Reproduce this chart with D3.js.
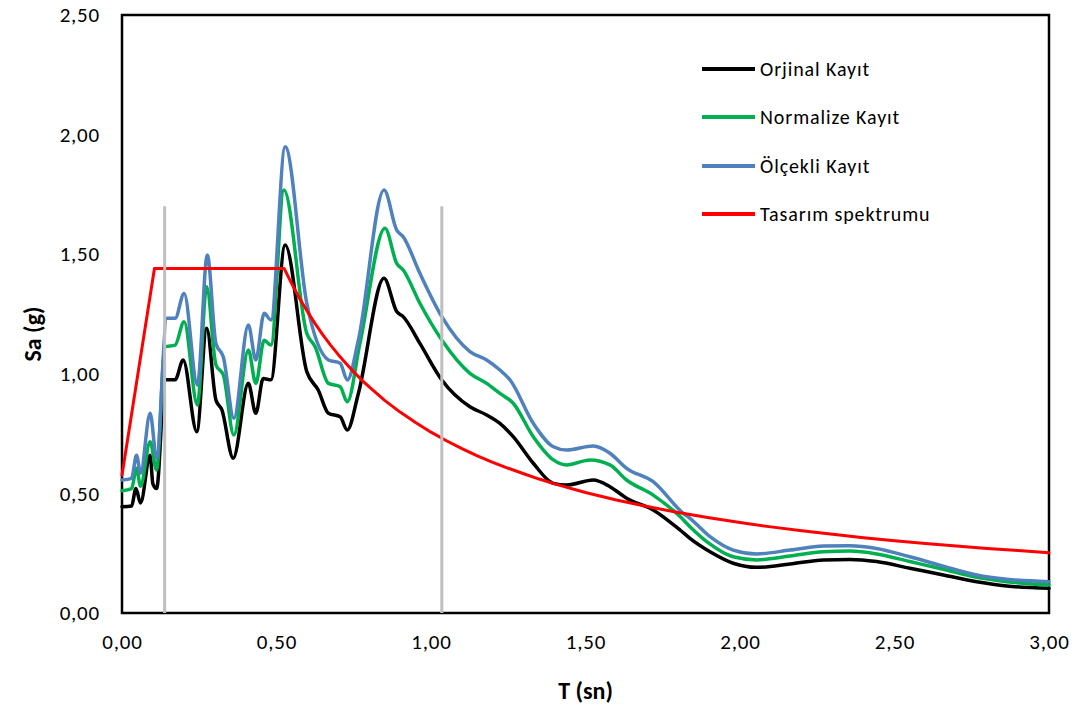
<!DOCTYPE html>
<html>
<head>
<meta charset="utf-8">
<script src="https://cdn.jsdelivr.net/npm/d3@7"></script>
<style>
  html, body { margin: 0; padding: 0; background: #fff; }
  svg { display: block; }
  text { font-family: Carlito, Calibri, Lato, "Liberation Sans", sans-serif; fill: #000; }
</style>
</head>
<body>
<svg id="chart" width="1085" height="713"></svg>
<script>
// ---- Data ----
const xTicks = [0, 0.5, 1.0, 1.5, 2.0, 2.5, 3.0];
const yTicks = [0, 0.5, 1.0, 1.5, 2.0, 2.5];
const seriesNames = ["Orjinal Kayıt", "Normalize Kayıt", "Ölçekli Kayıt", "Tasarım spektrumu"];
const seriesColors = ["#000000", "#00b050", "#4f81bd", "#ff0000"];

const orjinalT = [0.00,0.031,0.045,0.060,0.091,0.100,0.112,0.139,0.172,0.198,0.242,0.274,0.304,0.323,0.360,0.409,0.433,0.457,0.482,0.528,0.598,0.635,0.668,0.706,0.729,0.765,0.848,0.889,0.910,0.964,1.035,1.126,1.180,1.223,1.266,1.331,1.396,1.439,1.525,1.579,1.633,1.719,1.806,1.838,1.903,1.978,2.054,2.162,2.270,2.356,2.442,2.550,2.658,2.766,2.863,3.00];
const orjinalSa = [0.444,0.447,0.52,0.46,0.66,0.54,0.52,0.975,0.975,1.058,0.758,1.19,0.89,0.85,0.647,0.96,0.835,0.98,0.975,1.538,1.009,0.932,0.835,0.82,0.765,0.918,1.399,1.26,1.239,1.127,0.974,0.862,0.828,0.793,0.737,0.626,0.542,0.535,0.556,0.528,0.48,0.431,0.347,0.312,0.256,0.208,0.191,0.205,0.222,0.224,0.215,0.187,0.159,0.131,0.113,0.103];

const normalizeT = [0.00,0.031,0.047,0.060,0.091,0.112,0.139,0.172,0.201,0.244,0.274,0.304,0.328,0.362,0.409,0.433,0.460,0.482,0.524,0.598,0.625,0.668,0.706,0.729,0.770,0.851,0.889,0.910,0.964,1.035,1.126,1.180,1.223,1.266,1.331,1.396,1.439,1.515,1.579,1.633,1.719,1.806,1.838,1.900,1.978,2.054,2.162,2.270,2.356,2.442,2.550,2.658,2.766,2.863,3.00];
const normalizeSa = [0.511,0.52,0.605,0.53,0.716,0.598,1.113,1.12,1.218,0.87,1.364,1.037,0.995,0.744,1.10,0.96,1.14,1.12,1.768,1.169,1.113,0.96,0.946,0.883,1.127,1.608,1.462,1.434,1.295,1.141,1.002,0.96,0.918,0.877,0.737,0.64,0.619,0.64,0.619,0.556,0.493,0.403,0.361,0.291,0.235,0.222,0.238,0.256,0.259,0.247,0.215,0.183,0.149,0.131,0.117];

const olcekliT = [0.00,0.031,0.047,0.060,0.091,0.112,0.145,0.172,0.201,0.244,0.276,0.304,0.328,0.362,0.409,0.433,0.460,0.482,0.528,0.598,0.668,0.706,0.729,0.765,0.848,0.889,0.910,0.964,1.035,1.126,1.180,1.223,1.256,1.331,1.396,1.439,1.525,1.579,1.633,1.719,1.816,1.838,1.903,1.978,2.054,2.162,2.270,2.356,2.442,2.550,2.658,2.766,2.863,3.00];
const olcekliSa = [0.556,0.563,0.66,0.584,0.835,0.647,1.232,1.232,1.336,0.953,1.497,1.127,1.07,0.814,1.204,1.058,1.253,1.225,1.949,1.295,1.058,1.044,0.974,1.141,1.768,1.601,1.573,1.42,1.239,1.093,1.058,1.016,0.974,0.793,0.695,0.681,0.698,0.668,0.605,0.549,0.417,0.396,0.319,0.263,0.247,0.263,0.28,0.281,0.27,0.235,0.196,0.159,0.141,0.131];

const tasarimT = [0.00,0.105,0.525,0.55,0.575,0.60,0.625,0.65,0.675,0.70,0.725,0.75,0.775,0.80,0.85,0.90,0.95,1.00,1.05,1.10,1.15,1.20,1.25,1.30,1.35,1.40,1.50,1.60,1.70,1.80,1.90,2.00,2.10,2.20,2.30,2.40,2.50,2.60,2.70,2.80,2.90,3.00];
const tasarimSa = [0.576,1.44,1.44,1.375,1.315,1.26,1.21,1.163,1.12,1.08,1.043,1.008,0.975,0.945,0.889,0.84,0.796,0.756,0.72,0.687,0.657,0.63,0.605,0.582,0.56,0.54,0.504,0.4725,0.445,0.42,0.398,0.378,0.36,0.344,0.329,0.315,0.3024,0.291,0.28,0.27,0.261,0.252];

const grayT = [0.138, 1.035];
const grayTop = 1.70;

// ---- Chart ----
const svg = d3.select("#chart");
const x = d3.scaleLinear().domain([0, 3]).range([122, 1049]);
const y = d3.scaleLinear().domain([0, 2.5]).range([613, 15]);

const fmt = v => d3.format(".2f")(v).replace(".", ",");

// tick labels
const xAxis = d3.axisBottom(x).tickValues(xTicks).tickSize(0).tickPadding(21).tickFormat(fmt);
const gx = svg.append("g").attr("transform", "translate(0,613)").call(xAxis);
gx.select(".domain").remove();
gx.selectAll("text").style("font-size", "21px").style("letter-spacing", "0.8px").attr("fill", "#000");

const yAxis = d3.axisLeft(y).tickValues(yTicks).tickSize(0).tickPadding(22).tickFormat(fmt);
const gy = svg.append("g").attr("transform", "translate(122,0)").call(yAxis);
gy.select(".domain").remove();
gy.selectAll("text").style("font-size", "21px").style("letter-spacing", "0.8px").attr("fill", "#000");

// plot border
svg.append("rect")
  .attr("x", x(0)).attr("y", y(2.5))
  .attr("width", x(3) - x(0)).attr("height", y(0) - y(2.5))
  .attr("fill", "none").attr("stroke", "#000").attr("stroke-width", 2.5);

const lineSmooth = d3.line().x(d => x(d[0])).y(d => y(d[1])).curve(d3.curveMonotoneX);
const lineStraight = d3.line().x(d => x(d[0])).y(d => y(d[1])).curve(d3.curveLinear);

const series = [
  d3.zip(orjinalT, orjinalSa),
  d3.zip(normalizeT, normalizeSa),
  d3.zip(olcekliT, olcekliSa),
  d3.zip(tasarimT, tasarimSa)
];
const widths = [3.5, 3.5, 3.5, 3];

series.forEach((s, i) => {
  svg.append("path")
    .datum(s)
    .attr("d", i === 3 ? lineStraight : lineSmooth)
    .attr("fill", "none")
    .attr("stroke", seriesColors[i])
    .attr("stroke-width", widths[i])
    .attr("stroke-linejoin", "round")
    .attr("stroke-linecap", "round");
});

// gray vertical lines
grayT.forEach(t => {
  svg.append("line")
    .attr("x1", x(t)).attr("x2", x(t))
    .attr("y1", y(grayTop)).attr("y2", y(0))
    .attr("stroke", "#bfbfbf").attr("stroke-width", 3);
});

// axis titles
svg.append("text")
  .attr("x", (x(0) + x(3)) / 2).attr("y", 699)
  .attr("text-anchor", "middle")
  .style("font-size", "24px").style("font-weight", "bold")
  .text("T (sn)");

svg.append("text")
  .attr("transform", "translate(41,334) rotate(-90)")
  .attr("text-anchor", "middle")
  .style("font-size", "24px").style("font-weight", "bold")
  .text("Sa (g)");

// legend
const legendY = [69, 117, 166, 214];
seriesNames.forEach((name, i) => {
  svg.append("line")
    .attr("x1", 702).attr("x2", 755)
    .attr("y1", legendY[i]).attr("y2", legendY[i])
    .attr("stroke", seriesColors[i]).attr("stroke-width", 4);
  svg.append("text")
    .attr("x", 760).attr("y", legendY[i] + 7)
    .style("font-size", "20px").style("letter-spacing", "0.9px")
    .text(name);
});
</script>
</body>
</html>
